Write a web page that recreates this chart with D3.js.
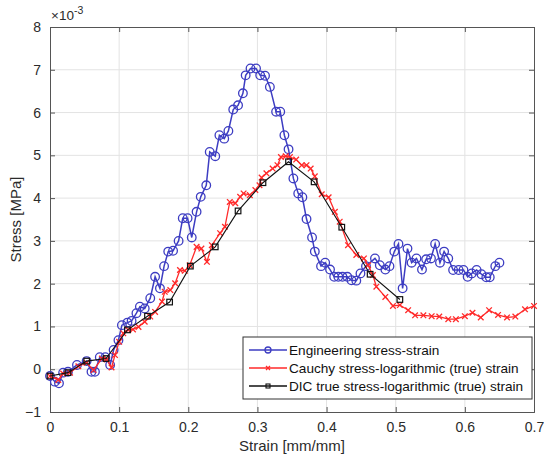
<!DOCTYPE html>
<html>
<head>
<meta charset="utf-8">
<script src="https://cdn.jsdelivr.net/npm/d3@7"></script>
<style>
  html, body { margin: 0; padding: 0; background: #fff; }
  svg { display: block; font-family: "Liberation Sans", Arial, sans-serif; }
</style>
</head>
<body>
<svg id="chart" width="544" height="459"></svg>
<script>
// Engineering stress-strain (stress in units of 1e-3 MPa)
const engStrain = [0.000,0.007,0.013,0.019,0.026,0.039,0.053,0.060,0.065,0.072,0.080,0.087,0.092,0.099,0.104,0.112,0.118,0.125,0.130,0.137,
  0.145,0.152,0.159,0.165,0.171,0.178,0.186,0.192,0.199,0.205,0.212,0.218,0.226,
  0.231,0.239,0.245,0.252,0.258,0.265,0.272,0.279,0.283,0.290,0.298,0.304,0.311,0.318,0.327,0.333,0.339,0.345,0.352,
  0.359,0.365,0.371,0.379,0.383,0.392,0.398,0.405,0.411,0.417,0.423,0.430,0.436,0.443,0.449,0.457,0.470,
  0.477,0.485,0.491,0.498,0.504,0.510,0.517,0.523,0.530,0.538,0.544,0.551,0.557,0.564,0.570,0.576,0.583,0.591,0.598,
  0.604,0.610,0.617,0.624,0.631,0.636,0.644,0.650];
const engStress = [-0.16,-0.29,-0.33,-0.08,-0.06,0.10,0.19,-0.06,-0.06,0.28,0.28,0.10,0.45,0.68,1.03,1.09,1.13,1.31,1.46,1.42,
  1.66,2.16,1.89,2.41,2.75,2.77,3.00,3.53,3.53,3.08,3.68,4.03,4.30,
  5.08,4.98,5.47,5.39,5.57,6.07,6.17,6.45,6.87,7.03,7.03,6.87,6.86,6.60,6.02,6.02,5.47,5.14,4.46,
  4.11,4.02,3.51,3.08,2.75,2.41,2.49,2.33,2.16,2.16,2.16,2.16,2.08,2.07,2.24,2.41,2.59,
  2.43,2.33,2.41,2.75,2.93,1.89,2.82,2.49,2.59,2.33,2.57,2.59,2.93,2.49,2.75,2.59,2.32,2.32,2.32,
  2.16,2.24,2.32,2.22,2.15,2.15,2.41,2.49];

// Cauchy stress vs logarithmic (true) strain
const cauchyStrain = [0.000,0.012,0.019,0.029,0.041,0.053,0.063,0.075,0.082,0.089,0.094,0.100,0.106,0.113,0.120,0.128,0.137,0.145,0.152,0.162,0.166,
  0.174,0.181,0.188,0.195,0.202,0.212,0.219,0.227,0.234,0.246,0.253,0.260,0.268,0.275,0.280,0.289,0.297,0.303,
  0.306,0.313,0.322,0.329,0.334,0.341,0.347,0.356,0.364,0.371,0.377,
  0.383,0.393,0.403,0.412,0.419,0.431,0.443,0.454,0.460,0.467,0.472,0.485,
  0.496,0.506,0.518,0.528,0.540,0.552,0.563,0.576,0.587,0.600,0.611,0.623,0.635,0.648,0.661,0.673,0.687,0.700];
const cauchyStress = [-0.16,-0.25,-0.10,-0.08,0.07,0.15,-0.02,0.25,0.23,0.04,0.33,0.64,0.84,0.92,0.93,0.99,1.11,1.23,1.34,1.58,1.81,
  1.85,2.01,2.32,2.30,2.43,2.86,2.82,2.51,2.90,3.18,3.33,3.91,3.88,4.03,4.11,4.07,4.19,4.30,
  4.48,4.58,4.69,4.77,4.96,4.98,4.96,4.90,4.77,4.77,4.69,
  4.51,4.09,4.02,3.68,3.45,2.90,2.67,2.59,2.43,2.20,1.93,1.69,
  1.48,1.50,1.38,1.26,1.26,1.24,1.23,1.17,1.17,1.24,1.32,1.21,1.38,1.27,1.21,1.23,1.40,1.48];

// DIC true stress vs logarithmic (true) strain
const dicStrain = [0.000,0.026,0.053,0.081,0.112,0.141,0.173,0.203,0.239,0.272,0.308,0.345,0.382,0.422,0.463,0.506];
const dicStress = [-0.16,-0.08,0.19,0.25,0.92,1.24,1.57,2.41,2.86,3.70,4.36,4.85,4.38,3.32,2.22,1.63];

const xTicks = [0, 0.1, 0.2, 0.3, 0.4, 0.5, 0.6, 0.7];
const yTicks = [-1, 0, 1, 2, 3, 4, 5, 6, 7, 8];
const seriesNames = [
  "Engineering stress-strain",
  "Cauchy stress-logarithmic (true) strain",
  "DIC true stress-logarithmic (true) strain"
];

const svg = d3.select("#chart");
const L = 50, R = 534, T = 27, B = 412;

const x = d3.scaleLinear().domain([0, 0.7]).range([L, R]);
const y = d3.scaleLinear().domain([-1, 8]).range([B, T]);

const axisColor = "#555";
const textColor = "#2b2b2b";

// grid
const grid = svg.append("g");
grid.selectAll("line.gx").data(xTicks.slice(1, -1)).join("line")
  .attr("x1", d => x(d)).attr("x2", d => x(d)).attr("y1", T).attr("y2", B)
  .attr("stroke", "#e3e3e3").attr("stroke-width", 1);
grid.selectAll("line.gy").data(yTicks.slice(1, -1)).join("line")
  .attr("x1", L).attr("x2", R).attr("y1", d => y(d)).attr("y2", d => y(d))
  .attr("stroke", "#e3e3e3").attr("stroke-width", 1);

// axes (ticks point inward, box on all four sides)
const tickLen = 5;
const xAxisB = d3.axisBottom(x).tickValues(xTicks).tickSize(-tickLen).tickPadding(10).tickFormat(d => d === 0 ? "0" : d3.format(".1f")(d));
const xAxisT = d3.axisTop(x).tickValues(xTicks).tickSize(-tickLen).tickFormat("");
const yAxisL = d3.axisLeft(y).tickValues(yTicks).tickSize(-tickLen).tickPadding(9).tickFormat(d3.format("d"));
const yAxisR = d3.axisRight(y).tickValues(yTicks).tickSize(-tickLen).tickFormat("");

function styleAxis(g) {
  g.select(".domain").attr("stroke", axisColor).attr("stroke-width", 1);
  g.selectAll(".tick line").attr("stroke", axisColor);
  g.selectAll(".tick text").attr("fill", textColor).style("font-size", "14px").style("font-family", "Liberation Sans, Arial, sans-serif");
}
svg.append("g").attr("transform", `translate(0,${B})`).call(xAxisB).call(styleAxis);
svg.append("g").attr("transform", `translate(0,${T})`).call(xAxisT).call(styleAxis);
svg.append("g").attr("transform", `translate(${L},0)`).call(yAxisL).call(styleAxis);
svg.append("g").attr("transform", `translate(${R},0)`).call(yAxisR).call(styleAxis);

// exponent label
const expo = svg.append("text").attr("x", L + 1).attr("y", T - 7).attr("fill", textColor)
  .style("font-size", "13.5px");
expo.append("tspan").text("\u00d710");
expo.append("tspan").attr("dy", -6).style("font-size", "10.5px").text("-3");

// axis titles
svg.append("text").attr("x", (L + R) / 2).attr("y", 451).attr("text-anchor", "middle")
  .attr("fill", textColor).style("font-size", "15px").text("Strain [mm/mm]");
svg.append("text").attr("transform", `translate(21,${(T + B) / 2}) rotate(-90)`).attr("text-anchor", "middle")
  .attr("fill", textColor).style("font-size", "15px").text("Stress [MPa]");

const plot = svg.append("g");
const line = d3.line().x(d => x(d[0])).y(d => y(d[1]));

const blue = "#3d3dc2", red = "#ff2a2a", black = "#111";

const eng = engStrain.map((s, i) => [s, engStress[i]]);
const cau = cauchyStrain.map((s, i) => [s, cauchyStress[i]]);
const dic = dicStrain.map((s, i) => [s, dicStress[i]]);

function drawCircle(g, px, py, c) {
  g.append("circle").attr("cx", px).attr("cy", py).attr("r", 4.3)
    .attr("fill", "none").attr("stroke", c).attr("stroke-width", 1.3);
}
function drawCross(g, px, py, c) {
  const s = 2.8;
  g.append("path").attr("d", `M${px - s},${py - s}L${px + s},${py + s}M${px - s},${py + s}L${px + s},${py - s}`)
    .attr("stroke", c).attr("stroke-width", 1.3).attr("fill", "none");
}
function drawSquare(g, px, py, c) {
  const s = 2.8;
  g.append("rect").attr("x", px - s).attr("y", py - s).attr("width", 2 * s).attr("height", 2 * s)
    .attr("fill", "none").attr("stroke", c).attr("stroke-width", 1.2);
}

// engineering
plot.append("path").datum(eng).attr("d", line).attr("fill", "none").attr("stroke", blue).attr("stroke-width", 1.5);
const gEng = plot.append("g");
eng.forEach(d => drawCircle(gEng, x(d[0]), y(d[1]), blue));

// cauchy
plot.append("path").datum(cau).attr("d", line).attr("fill", "none").attr("stroke", red).attr("stroke-width", 1.3);
const gCau = plot.append("g");
cau.forEach(d => drawCross(gCau, x(d[0]), y(d[1]), red));

// DIC
plot.append("path").datum(dic).attr("d", line).attr("fill", "none").attr("stroke", black).attr("stroke-width", 1.1);
const gDic = plot.append("g");
dic.forEach(d => drawSquare(gDic, x(d[0]), y(d[1]), black));

// legend
const lg = svg.append("g");
const lx = 243, ly = 337, lw = 289, lh = 62;
lg.append("rect").attr("x", lx).attr("y", ly).attr("width", lw).attr("height", lh)
  .attr("fill", "#fff").attr("stroke", "#333").attr("stroke-width", 1);
const colors = [blue, red, black];
seriesNames.forEach((name, i) => {
  const yy = ly + 13 + i * 18;
  lg.append("line").attr("x1", lx + 6).attr("x2", lx + 44).attr("y1", yy).attr("y2", yy)
    .attr("stroke", colors[i]).attr("stroke-width", 1.4);
  if (i === 0) {
    lg.append("circle").attr("cx", lx + 25).attr("cy", yy).attr("r", 3)
      .attr("fill", "none").attr("stroke", blue).attr("stroke-width", 1.3);
  } else if (i === 1) {
    const s = 2;
    lg.append("path").attr("d", `M${lx + 25 - s},${yy - s}L${lx + 25 + s},${yy + s}M${lx + 25 - s},${yy + s}L${lx + 25 + s},${yy - s}`)
      .attr("stroke", red).attr("stroke-width", 1.3);
  } else {
    lg.append("rect").attr("x", lx + 23).attr("y", yy - 2).attr("width", 4).attr("height", 4)
      .attr("fill", "none").attr("stroke", black).attr("stroke-width", 1.1);
  }
  lg.append("text").attr("x", lx + 46).attr("y", yy + 4.8).attr("fill", "#111")
    .style("font-size", "13.6px").text(name);
});
</script>
</body>
</html>
